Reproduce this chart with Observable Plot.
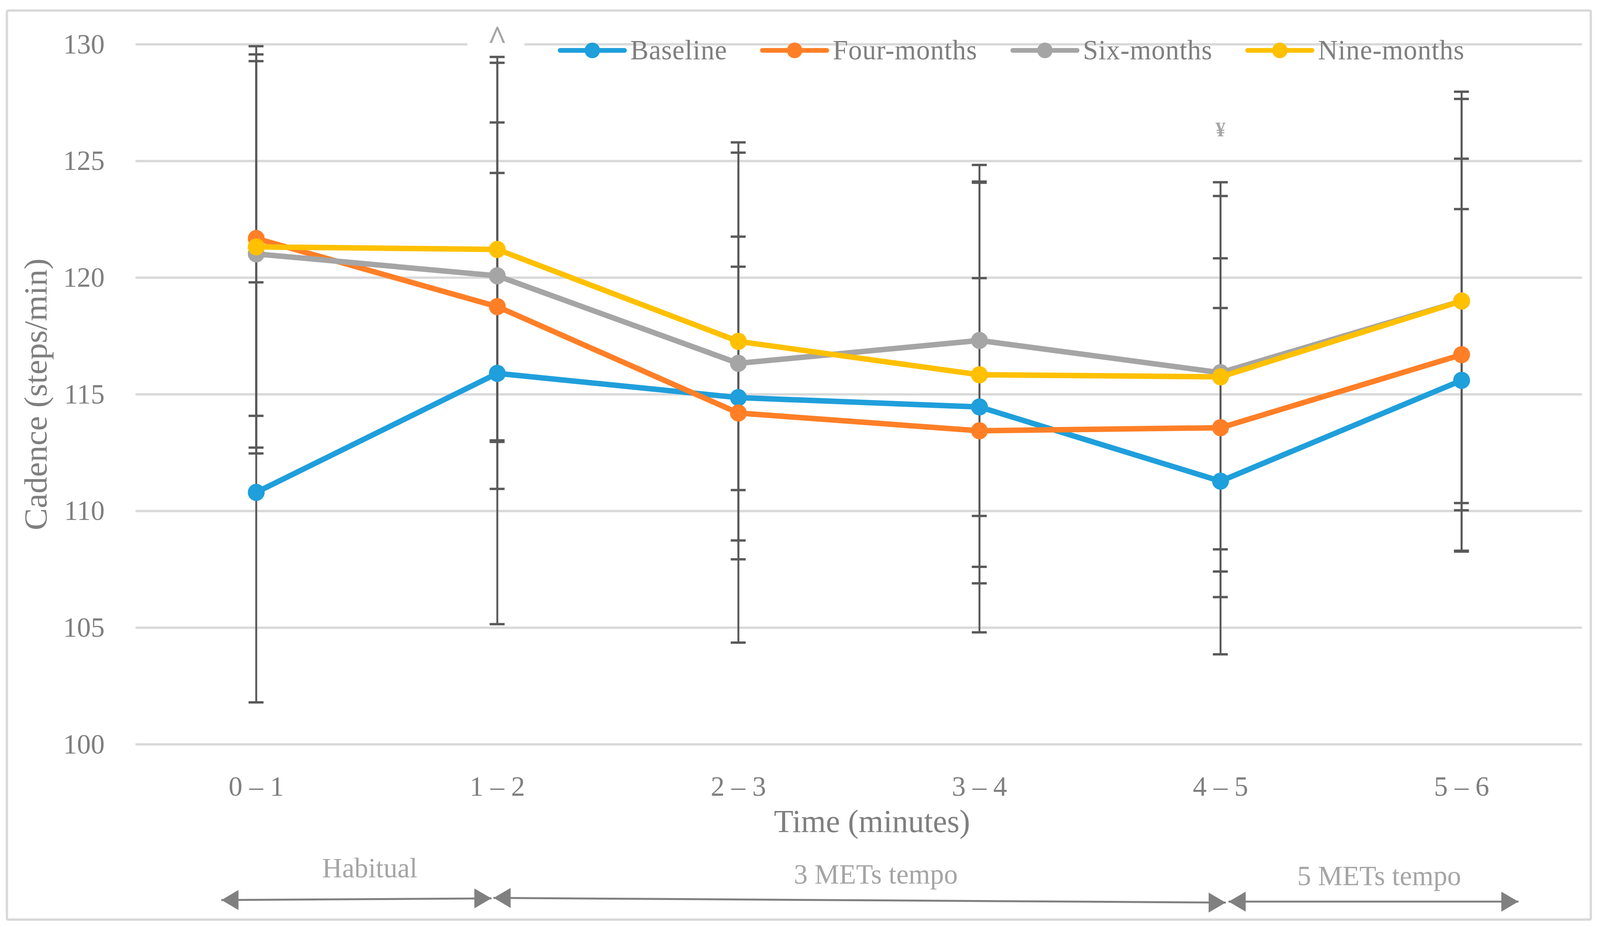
<!DOCTYPE html>
<html>
<head>
<meta charset="utf-8">
<script src="https://cdn.jsdelivr.net/npm/d3@7"></script>
<script src="https://cdn.jsdelivr.net/npm/@observablehq/plot@0.6"></script>
<style>
  html, body { margin: 0; padding: 0; background: #ffffff; overflow: hidden; }
  #wrap { position: relative; width: 4168px; height: 2373px; overflow: hidden; background: #ffffff; transform-origin: 0 0; }
  #chart svg { display: block; max-width: none; }
  #border { position: absolute; left: 15px; top: 24px; width: 4132px; height: 2333px; box-sizing: border-box;
            border: 6px solid #d9d9d9; border-radius: 6px; pointer-events: none; }
  #legend { position: absolute; left: 1453px; top: 88px; display: flex; align-items: center;
            font-family: "Liberation Serif", serif; font-size: 71px; letter-spacing: 1px; color: #7f7f7f; line-height: normal; white-space: nowrap; }
  #legend .item { display: flex; align-items: center; margin-right: 86px; }
  #legend .item svg { margin-right: 9px; display: block; }
</style>
</head>
<body>
<div id="wrap">
  <div id="chart"></div>
  <div id="legend"></div>
  <div id="border"></div>
</div>
<script>
// ---------- data ----------
const categories = ["0 – 1", "1 – 2", "2 – 3", "3 – 4", "4 – 5", "5 – 6"];
const seriesNames = ["Baseline", "Four-months", "Six-months", "Nine-months"];

const baselineMean = [110.8, 115.9, 114.86, 114.46, 111.28, 115.6];
const baselineSD   = [9.0, 10.75, 10.5, 9.66, 7.42, 7.34];
const fourMean     = [121.68, 118.76, 114.2, 113.44, 113.57, 116.7];
const fourSD       = [7.6, 5.73, 6.27, 6.54, 7.26, 8.4];
const sixMean      = [121.02, 120.08, 116.33, 117.31, 115.93, 119.0];
const sixSD        = [8.55, 9.13, 5.43, 7.52, 7.57, 8.97];
const nineMean     = [121.32, 121.21, 117.27, 115.84, 115.75, 119.0];
const nineSD       = [8.6, 8.25, 8.53, 8.23, 8.34, 8.66];

const yTicks = [100, 105, 110, 115, 120, 125, 130];

// significance symbols (category index, label)
const caretNote = [{i: 1, label: "^"}];
const yenNote = [{i: 4, label: "¥"}];

// protocol phases below the axis (spans in category units)
const phaseLabels = ["Habitual", "3 METs tempo", "5 METs tempo"];
const phaseFrom   = [-0.145, 0.984, 4.033];
const phaseTo     = [0.976, 4.022, 5.236];

// ---------- styles ----------
const seriesColors = ["#1F9FDB", "#FF7F27", "#A5A5A5", "#FFC000"];
const font = '"Liberation Serif", serif';

// ---------- build tables ----------
const means = [baselineMean, fourMean, sixMean, nineMean];
const sds = [baselineSD, fourSD, sixSD, nineSD];
const rows = [];
seriesNames.forEach((s, k) => {
  categories.forEach((c, i) => rows.push({series: s, i, mean: means[k][i], sd: sds[k][i]}));
});
const caps = rows.flatMap(d => [{i: d.i, v: d.mean - d.sd}, {i: d.i, v: d.mean + d.sd}]);

const phaseY = [[93.33, 93.40], [93.42, 93.22], [93.26, 93.26]];
const phaseTextY = [94.30, 94.03, 93.96];
const phaseTextX = [0.471, 2.570, 4.658];
const phases = phaseLabels.map((label, k) => ({
  label, x1: phaseFrom[k], x2: phaseTo[k], y1: phaseY[k][0], y2: phaseY[k][1],
  tx: phaseTextX[k], ty: phaseTextY[k]
}));

const seriesMarks = seriesNames.flatMap(s => {
  const data = rows.filter(d => d.series === s);
  return [
    Plot.line(data, {x: "i", y: "mean", stroke: "series", strokeWidth: 14,
                     strokeLinejoin: "round", strokeLinecap: "round"}),
    Plot.dot(data, {x: "i", y: "mean", fill: "series", r: 22})
  ];
});

const chart = Plot.plot({
  width: 4168,
  height: 2373,
  marginLeft: 353,
  marginRight: 47,
  marginTop: 113,
  marginBottom: 468,
  x: {type: "linear", domain: [-0.5, 5.5]},
  y: {type: "linear", domain: [100, 130]},
  color: {domain: seriesNames, range: seriesColors},
  style: {fontFamily: font, color: "#7f7f7f", background: "transparent", overflow: "visible", maxWidth: "none"},
  marks: [
    Plot.ruleY(yTicks, {stroke: "#d9d9d9", strokeWidth: 6}),
    Plot.rect(caretNote, {x1: d => d.i - 0.123, x2: d => d.i + 0.113, y1: () => 129.72, y2: () => 130.6, fill: "white"}),
    Plot.ruleX(rows, {x: "i", y1: d => d.mean - d.sd, y2: d => d.mean + d.sd, stroke: "#595959", strokeWidth: 5}),
    Plot.ruleY(caps, {y: "v", x1: d => d.i - 0.031, x2: d => d.i + 0.031, stroke: "#595959", strokeWidth: 6}),
    ...seriesMarks,
    Plot.axisY(yTicks, {tickSize: 0, tickPadding: 81, fontSize: 72, tickFormat: d => String(d), label: null}),
    Plot.axisX(d3.range(categories.length), {tickFormat: i => categories[i], tickSize: 0, tickPadding: 80, fontSize: 72, label: null}),
    Plot.text(["Cadence (steps/min)"], {frameAnchor: "left", dx: -260, rotate: -90, fontSize: 85, textAnchor: "middle", lineAnchor: "middle"}),
    Plot.text(["Time (minutes)"], {frameAnchor: "bottom", dx: 34, dy: 224, fontSize: 83, textAnchor: "middle", lineAnchor: "bottom"}),
    Plot.text(caretNote, {x: "i", y: () => 129.77, text: "label", fontSize: 88, fontWeight: "bold", fill: "#a6a6a6", lineAnchor: "bottom"}),
    Plot.text(yenNote, {x: "i", y: () => 126.05, text: "label", fontSize: 52, fontWeight: "bold", fill: "#a6a6a6", lineAnchor: "bottom"}),
    Plot.link(phases, {x1: "x1", y1: "y1", x2: "x2", y2: "y2", stroke: "#808080", strokeWidth: 5}),
    Plot.dot(phases, {x: "x1", y: "y1", symbol: "triangle", r: 19, rotate: -90, dx: 30, fill: "#808080", stroke: "none"}),
    Plot.dot(phases, {x: "x2", y: "y2", symbol: "triangle", r: 19, rotate: 90, dx: -30, fill: "#808080", stroke: "none"}),
    Plot.text(phases, {x: "tx", y: "ty", text: "label", fontSize: 72, fill: "#a5a5a5", lineAnchor: "bottom"})
  ]
});
document.getElementById("chart").appendChild(chart);

const legend = d3.select("#legend");
seriesNames.forEach((s, k) => {
  const item = legend.append("div").attr("class", "item");
  const svg = item.append("svg").attr("width", 180).attr("height", 50);
  svg.append("line").attr("x1", 6).attr("x2", 174).attr("y1", 25).attr("y2", 25)
    .attr("stroke", seriesColors[k]).attr("stroke-width", 12).attr("stroke-linecap", "round");
  svg.append("circle").attr("cx", 90).attr("cy", 25).attr("r", 20).attr("fill", seriesColors[k]);
  item.append("span").text(s);
});

// fit the 4168x2373 drawing into the actual viewport
const sx = window.innerWidth / 4168, sy = window.innerHeight / 2373;
document.getElementById("wrap").style.transform = `scale(${sx}, ${sy})`;
</script>
</body>
</html>
